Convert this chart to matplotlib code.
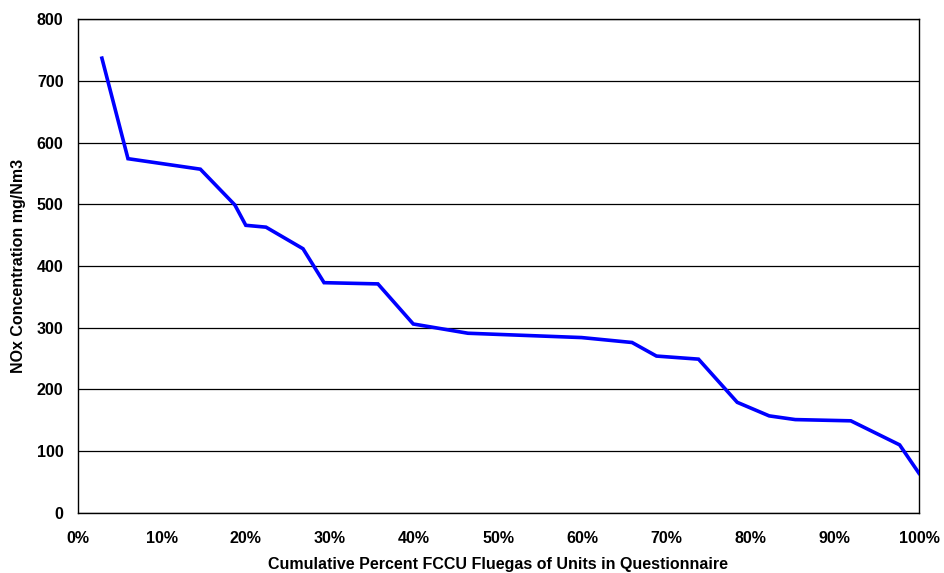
import matplotlib.pyplot as plt
from matplotlib.ticker import PercentFormatter

# cumulative percent of FCCU fluegas vs NOx concentration
cum_pct = [2.9, 6.0, 14.6, 18.7, 20.0, 22.4, 26.8, 29.3, 35.7, 39.9, 46.4,
           59.9, 65.9, 68.8, 73.8, 78.4, 82.2, 85.3, 91.9, 97.7, 100.0]
nox = [737, 574, 557, 499, 466, 463, 428, 373, 371, 306, 291,
       284, 276, 254, 249, 179, 157, 151, 149, 110, 64]

plt.rcParams['font.family'] = ['Liberation Sans', 'DejaVu Sans']
plt.rcParams['font.weight'] = 'bold'

fig = plt.figure(figsize=(9.44, 5.73), dpi=100)
ax = fig.add_axes([0.0821, 0.1052, 0.8914, 0.8611])

ax.plot(cum_pct, nox, color='#0000ff', linewidth=2.6, solid_joinstyle='miter', zorder=3)

ax.set_xlim(0, 100)
ax.set_ylim(0, 800)
ax.set_xticks(range(0, 101, 10))
ax.set_yticks(range(0, 801, 100))
ax.xaxis.set_major_formatter(PercentFormatter(decimals=0))
ax.grid(axis='y', color='black', linewidth=0.9)
ax.set_axisbelow(True)
ax.tick_params(length=0, labelsize=11.5)
ax.tick_params(axis='x', pad=13)
ax.tick_params(axis='y', pad=10)
for s in ax.spines.values():
    s.set_linewidth(1.0)

ax.set_xlabel('Cumulative Percent FCCU Fluegas of Units in Questionnaire', fontsize=11.5, fontweight='bold', labelpad=8)
ax.set_ylabel('NOx Concentration mg/Nm3', fontsize=11.5, fontweight='bold', labelpad=8)

plt.savefig('out.png', dpi=100)
